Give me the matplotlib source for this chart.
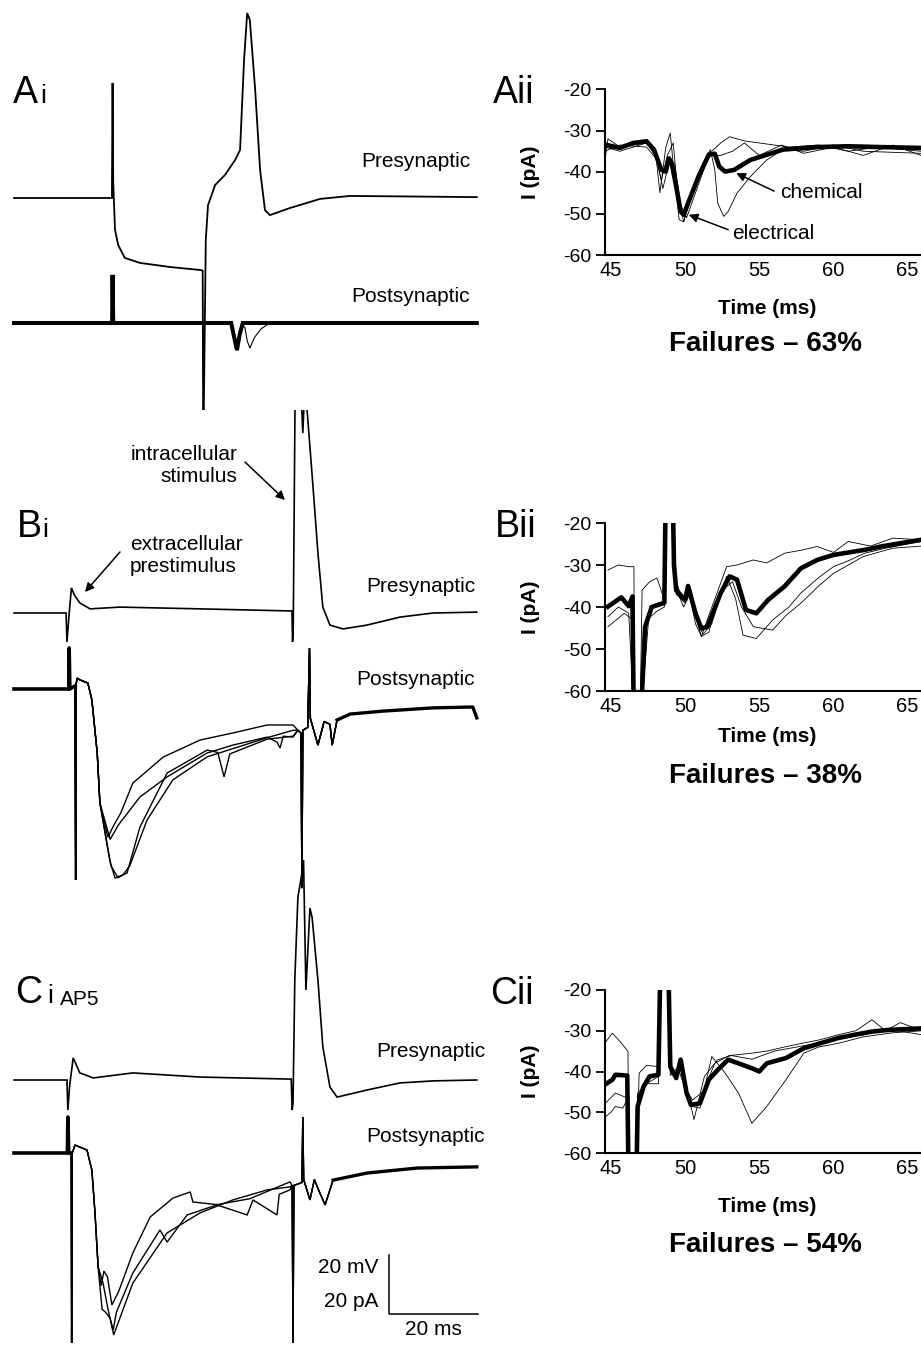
import numpy as np
import matplotlib
matplotlib.use("Agg")
from matplotlib import pyplot as plt

plt.rcParams['font.family'] = ['Liberation Sans', 'DejaVu Sans']
plt.rcParams['axes.unicode_minus'] = False

# ---------------- data: left column traces (time in ms, mV / pA relative to baseline)
# Ai presynaptic
ai_pre_t = [0, 22.0, 22.15, 22.3, 22.7, 23.4, 24.9, 28.3, 35.1, 41.8, 42.4, 42.5, 42.65, 43.1, 43.6,
            45.2, 47.4, 49.7, 50.8, 51.7, 52.4, 53.0, 54.2, 55.3, 56.4, 57.5, 62.0, 68.8, 75.5, 104]
ai_pre_v = [0, 0, 39, 5, -10.8, -15.9, -20.3, -22, -23.4, -24.4, -24.6, -72.5, -72, -14.2, -2.4,
            4.4, 7.8, 12.9, 16.3, 46.8, 62.7, 60.3, 36.6, 9.5, -4.1, -5.8, -3.4, -0.3, 0.7, 0.3]
# Ai postsynaptic (electrical only / electrical + chemical)
ai_post1_t = [0, 22.05, 22.15, 22.3, 48.8, 49.5, 50.1, 50.7, 51.4, 104]
ai_post1_v = [0, 0, 16.3, 0, 0, -5, -9.2, -4, 0, 0]
ai_post2_t = [0, 22.05, 22.15, 22.3, 48.8, 49.5, 50.1, 50.7, 51.4, 51.9, 52.4, 53.0, 54.0, 55.5, 57.0, 104]
ai_post2_v = [0, 0, 16.3, 0, 0, -5, -9.2, -4, -1, -1.5, -6, -8.5, -5, -2, -0.5, 0]

# Bi presynaptic
bi_pre_t = [0, 11.7, 11.9, 12.3, 12.9, 13.6, 14.8, 17.1, 23.8, 41.8, 62.0, 62.45, 62.6, 62.75, 63.2,
            64.5, 64.9, 65.3, 65.8, 67.2, 68.3, 69.4, 71.0, 73.9, 79.3, 86.7, 94.2, 104]
bi_pre_v = [0, 0, -9.8, -2, 8.5, 6, 3.4, 1.4, 2.0, 1.4, 0.7, 0.7, -9.8, -5, 80,
            75, 61, 75, 70, 42.7, 20.3, 2, -4.1, -5.4, -4.1, -1.4, 0, 0.3]
# Bi postsynaptic: common onset, four sweeps, common tail
bi_start_t = [0, 12.3, 12.4, 12.55, 13.7, 13.85, 14.0, 14.2, 14.8, 16.6, 17.5, 18.7, 19.3]
bi_start_v = [0, 0, 13.9, 0, 1, -64.7, 2, 3.7, 3.1, 2.0, -3.7, -21.7, -38.6]
bi_s1_t = [21.1, 22.5, 24.0, 26.7, 33.5, 41.8, 49.2, 56.9, 62.7]
bi_s1_v = [-50.2, -46, -42, -31.9, -23.1, -17.3, -14.9, -12.2, -12.2]
bi_s2_t = [21.6, 23.5, 28.3, 34.4, 43.4, 49.2, 56.9, 59.1, 59.8, 60.5, 62.7]
bi_s2_v = [-51, -46, -36.6, -29.8, -21.7, -19.0, -16.3, -18, -20, -16, -16.3]
bi_s3_t = [21.5, 22.7, 25.4, 28.3, 34.4, 43.4, 45.8, 47.2, 48.5, 56.9, 62.7]
bi_s3_v = [-58, -64.1, -62.4, -46.8, -28.5, -20.7, -21.5, -29.8, -22, -17, -16]
bi_s4_t = [21.8, 23.4, 24.5, 26.0, 29.9, 35.7, 43.4, 56.9, 62.7]
bi_s4_v = [-60, -64, -63, -60, -44.4, -30.8, -23, -16.5, -14]
bi_end_t = [63.8, 64.5, 64.7, 64.9, 66.0, 66.4, 66.6, 68.3, 69.7, 71.0, 71.5, 72.6, 75.5, 82.9, 94.2, 103.1, 104]
bi_end_v = [-14, -15, -67.5, -14, -13, 13.9, -10, -19, -11, -12, -19, -10.5, -8.5, -7.5, -6.4, -6.1, -9.8]

# Ci presynaptic (AP5)
ci_pre_t = [0, 11.9, 12.1, 12.5, 13.3, 14.8, 17.8, 26.7, 41.8, 62.3, 62.5, 62.7, 63.1, 63.8,
            64.7, 65.0, 65.6, 66.5, 67.0, 68.3, 69.4, 71.0, 72.6, 79.3, 86.7, 94.2, 104]
ci_pre_v = [0, 0, -10.2, -2, 7.5, 2.4, 0.7, 2.4, 1.0, 0.3, -10.2, -8, 33.9, 62,
            70, 80, 30.5, 58.3, 55, 33.9, 11.2, -2.4, -5.8, -3.4, -1.0, -0.3, 0]
ci_start_t = [0, 12.0, 12.1, 12.3, 12.85, 12.95, 13.1, 13.7, 16.4, 17.5, 18.2, 18.9]
ci_start_v = [0, 0, 12.2, 0, 0, -64.4, 0, 2.7, 1.0, -5.8, -20.3, -38.6]
ci_s1_t = [19.6, 20.2, 21.0, 22.0, 23.5, 26.7, 30.6, 35.7, 39.6, 40.2, 45.6, 53.0, 62.0]
ci_s1_v = [-45, -40, -42, -51.5, -47, -33.9, -21.7, -15.3, -13.2, -16.6, -17.5, -15.5, -9.8]
ci_s2_t = [19.8, 20.6, 21.6, 22.3, 23.0, 26.7, 32.8, 34.4, 38.9, 45.6, 52.4, 53.7, 59.1, 59.6, 62.0]
ci_s2_v = [-53, -54, -56, -60, -54, -40.7, -26.1, -30.2, -21, -17.6, -21, -15.9, -21, -14, -12.5]
ci_s3_t = [20.0, 21.0, 22.4, 23.3, 26.7, 34.4, 41.8, 49.2, 56.9, 62.0]
ci_s3_v = [-44, -52, -61.7, -58, -44.1, -27.1, -20.3, -15.9, -12.5, -11.5]
ci_end_t = [62.5, 62.7, 62.9, 64.7, 64.9, 65.1, 66.5, 67.5, 68.3, 69.9, 71.7, 79.3, 90.6, 104]
ci_end_v = [-11, -64.4, -11, -10, 12.2, -9, -15.9, -9, -12, -17.6, -9.2, -6.8, -5.1, -4.7]

scale_ms = 20
scale_mv = 20

# ---------------- data: right column (Time ms, I pA)
aii_mean_t = [44.6, 45.6, 46.5, 47.4, 47.9, 48.4, 48.7, 48.9, 49.1, 49.4, 49.7, 49.9, 50.2, 50.9, 51.6,
              52.0, 52.3, 52.7, 53.3, 54.4, 56.6, 58.8, 61.0, 63.2, 65.9]
aii_mean_v = [-33.4, -34.2, -33, -32.6, -34.6, -39.5, -39.9, -36.7, -37.9, -43.5, -49.5, -50.3, -47.5, -41.1, -35.8,
              -35.6, -38.7, -39.9, -39.5, -37.1, -34.6, -34, -33.8, -34, -34.2]
aii_sweeps = [
    ([44.6, 44.8, 45.6, 47.4, 48.0, 48.3, 48.7, 49.0, 49.3, 49.6, 49.9, 50.3, 51.0, 51.7, 52.0, 52.2, 52.6,
      52.9, 53.5, 54.4, 55.5, 56.6, 58, 60, 62, 65.9],
     [-37, -32, -34, -33, -35, -45, -34, -30.6, -42, -51.5, -52, -47, -40, -34.6, -39.5, -47.5, -50.7,
      -49.5, -45.1, -41.1, -37.1, -34.6, -35, -33.5, -35, -35.5]),
    ([44.6, 45.6, 47.4, 48.0, 48.4, 48.8, 49.2, 49.5, 49.9, 50.4, 51.2, 51.8, 52.4, 53.0, 54.0, 55.0, 57, 59, 61, 63, 65.9],
     [-34, -35, -33, -36, -42, -36, -33, -45, -52, -46, -38, -35, -33, -31.5, -32.5, -33, -34, -33.5, -35, -34, -35]),
    ([44.6, 45.6, 47.4, 48.1, 48.5, 48.9, 49.3, 49.7, 50.1, 50.8, 51.6, 52.4, 53.2, 54.0, 55.0, 56.5, 58, 60, 62, 64, 65.9],
     [-35, -33.5, -34, -37, -44, -38, -38, -48, -51, -44, -36, -36, -35, -33, -36, -33.5, -35.5, -34, -36, -33.5, -36]),
]

bii_mean_t = [44.8, 45.7, 46.2, 46.45, 46.55, 46.95, 47.1, 47.3, 47.75, 48.6, 48.7, 49.15, 49.25, 49.4, 50.0,
              50.2, 50.7, 51.1, 51.5, 52.4, 53.0, 53.5, 54.1, 54.8, 55.6, 56.7, 57.8, 58.9, 60.0, 62.1, 63.2, 65.9]
bii_mean_v = [-39.9, -37.7, -39.8, -37.5, -70, -70, -60, -44.7, -40, -39, -10, -10, -30, -36, -38.3,
              -35, -41.5, -45.1, -44.7, -36.7, -32.7, -33.5, -40.7, -41.5, -38.3, -35.1, -30.8, -28.8, -27.6, -26.4, -25.6, -24]
bii_sweeps = [
    ([44.8, 45.5, 46.2, 46.55, 46.6, 46.95, 47.1, 47.6, 48.1, 48.6, 48.7, 49.15, 49.3, 49.8, 50.3, 50.7, 51.1,
      51.6, 52.8, 53.5, 54.6, 55.5, 56.7, 57.8, 58.9, 60, 61, 62.5, 64, 65.9],
     [-31.2, -30, -30.4, -30.4, -70, -70, -36, -34, -33.1, -38.3, -10, -10, -33, -38, -36, -42.3, -47,
      -42, -30.4, -30, -28.8, -29.5, -27.2, -26.5, -25.6, -27, -24.4, -25.5, -23.6, -24]),
    ([44.8, 45.9, 46.5, 46.6, 46.95, 47.4, 48.1, 48.6, 48.7, 49.15, 49.3, 49.9, 50.3, 50.7, 51.1, 51.6, 52.2,
      52.8, 53.4, 53.9, 54.8, 55.9, 57.0, 57.8, 59, 60, 61, 62.1, 63.5, 65.9],
     [-44.7, -41.5, -43.1, -70, -70, -43.1, -41, -40, -10, -10, -35, -40, -37, -44, -47, -46, -38,
      -32.7, -38, -46.7, -47.5, -43.1, -40, -36.7, -33, -30.4, -29, -27.2, -26, -24.4]),
    ([44.8, 45.5, 46.2, 46.6, 46.95, 47.6, 48.2, 48.6, 48.7, 49.15, 49.4, 50.0, 50.4, 50.8, 51.2, 51.8, 52.5,
      53.2, 53.8, 54.6, 55.9, 56.8, 57.8, 59, 60, 62, 64, 65.9],
     [-42.3, -40, -41.5, -70, -70, -40, -39, -39.5, -10, -10, -37, -39, -36, -43, -46.5, -44, -36,
      -34, -40, -44.7, -45.5, -42, -39.1, -35, -32, -28, -26, -25.5]),
]

cii_mean_t = [44.4, 45.1, 45.3, 46.1, 46.2, 46.7, 46.8, 47.2, 47.6, 48.2, 48.35, 48.85, 49.0, 49.4, 49.7,
              50.1, 50.4, 51.0, 51.6, 52.2, 52.9, 53.6, 54.5, 55.0, 55.5, 56.8, 58.0, 59.1, 60.3, 61.4, 62.6, 63.7, 66]
cii_mean_v = [-43.7, -42, -40.8, -41, -70, -70, -48.6, -43.7, -41.2, -40.8, -10, -10, -38.8, -41.6, -37.1,
              -45.3, -48.2, -47.8, -42, -39.6, -37.1, -38, -39.2, -40, -38, -36.7, -34.3, -33.1, -31.8, -31, -30.2, -29.8, -29.4]
cii_sweeps = [
    ([44.4, 45.1, 45.7, 46.15, 46.2, 46.7, 46.9, 47.4, 48.2, 48.35, 48.85, 49.0, 49.4, 49.7, 50.1, 50.6, 51.3,
      52.2, 53.2, 54.5, 55.5, 56.8, 58, 59.1, 60.3, 61.5, 62.6, 63.5, 64.5, 66],
     [-33.9, -30.6, -33, -35.1, -70, -70, -40.4, -38.5, -38.8, -10, -10, -39, -42, -37, -44, -51.8, -41.2,
      -37.1, -36, -35.5, -35, -33.9, -33, -32.2, -31, -30, -27.3, -30, -28, -30]),
    ([44.4, 45.0, 45.3, 45.8, 46.2, 46.25, 46.7, 46.8, 47.4, 48.2, 48.35, 48.85, 49.0, 49.4, 49.7, 50.1, 50.5,
      51.0, 51.8, 52.7, 53.6, 54.5, 55.5, 56.8, 58, 59, 60.3, 62, 64, 66],
     [-51.8, -50, -48.6, -49, -46.1, -70, -70, -45.3, -43, -41.2, -10, -10, -40, -42, -38, -46, -48.6,
      -49, -36.3, -40.4, -45.3, -52.7, -48.6, -42, -35.5, -34, -33.1, -31.5, -30.5, -30]),
    ([44.4, 45.3, 46.1, 46.2, 46.7, 46.8, 47.4, 48.2, 48.35, 48.85, 49.0, 49.5, 50.0, 50.5, 51.2, 52.0, 53.0,
      54.5, 56.0, 57.5, 59.0, 60.5, 62, 63.5, 66],
     [-48.6, -45.3, -46.5, -70, -70, -46, -43, -43, -10, -10, -41, -39, -44, -47, -45, -38, -36,
      -37, -35, -34, -33, -31.5, -31, -29.5, -31]),
]

xticks = [45, 50, 55, 60, 65]
xtick_labels = ['45', '50', '55', '60', '65']
yticks = [-20, -30, -40, -50, -60]
ytick_labels = ['-20', '-30', '-40', '-50', '-60']
failures = ['Failures \u2013 63%', 'Failures \u2013 38%', 'Failures \u2013 54%']

# ---------------- layout (pixels of the 921 x 1345 image)
W, H = 921, 1345
MS_PX = 4.45   # px per ms in left column
MV_PX = 2.95   # px per mV / pA in left column
X0 = 14        # pixel of t = 0

fig = plt.figure(figsize=(W / 100, H / 100), dpi=100)


def add_ax(left, top, right, bottom):
    return fig.add_axes([left / W, 1 - bottom / H, (right - left) / W, (bottom - top) / H])


def ftext(x, y, s, **kw):
    fig.text(x / W, 1 - y / H, s, **kw)


def left_axes(top, bottom):
    ax = add_ax(0, top, 520, bottom)
    ax.set_xlim(-X0 / MS_PX, (520 - X0) / MS_PX)
    ax.set_ylim(0, (bottom - top) / MV_PX)
    ax.axis('off')
    return ax


def trace(ax, t, v, base, lw=1.0, clip=True):
    ax.plot(t, np.array(v) + base, color='black', lw=lw, clip_on=clip, solid_joinstyle='miter')


# ---- Ai
axA = left_axes(0, 410)
trace(axA, ai_pre_t, ai_pre_v, (410 - 198) / MV_PX, lw=1.3)
trace(axA, ai_post1_t, ai_post1_v, (410 - 323) / MV_PX, lw=2.9, clip=False)
trace(axA, ai_post2_t, ai_post2_v, (410 - 323) / MV_PX, lw=0.8, clip=False)

# ---- Bi
axB = left_axes(410, 860)
trace(axB, bi_pre_t, bi_pre_v, (860 - 613) / MV_PX, lw=1.2)
for st, sv in [(bi_s1_t, bi_s1_v), (bi_s2_t, bi_s2_v), (bi_s3_t, bi_s3_v), (bi_s4_t, bi_s4_v)]:
    trace(axB, bi_start_t + st + bi_end_t, bi_start_v + sv + bi_end_v, (860 - 689) / MV_PX, lw=1.0, clip=False)
axB.plot(bi_start_t[:5], np.array(bi_start_v[:5]) + (860 - 689) / MV_PX, color='black', lw=2.6)
axB.plot(bi_end_t[-6:], np.array(bi_end_v[-6:]) + (860 - 689) / MV_PX, color='black', lw=2.4, clip_on=False)

# ---- Ci
axC = left_axes(860, 1345)
trace(axC, ci_pre_t, ci_pre_v, (1345 - 1080) / MV_PX, lw=1.2)
for st, sv in [(ci_s1_t, ci_s1_v), (ci_s2_t, ci_s2_v), (ci_s3_t, ci_s3_v)]:
    trace(axC, ci_start_t + st + ci_end_t, ci_start_v + sv + ci_end_v, (1345 - 1153) / MV_PX, lw=1.0, clip=False)
axC.plot(ci_start_t[:5], np.array(ci_start_v[:5]) + (1345 - 1153) / MV_PX, color='black', lw=2.6)
axC.plot(ci_end_t[-4:], np.array(ci_end_v[-4:]) + (1345 - 1153) / MV_PX, color='black', lw=2.4, clip_on=False)

# scale bar
sb_x = (389 - X0) / MS_PX
sb_y = (1345 - 1314) / MV_PX
axC.plot([sb_x, sb_x, sb_x + scale_ms], [sb_y + scale_mv, sb_y, sb_y], color='black', lw=1.1, clip_on=False)

# left column texts
TXT = 15
for x, y in [(470, 167), (475, 592), (485, 1057)]:
    ftext(x, y, 'Presynaptic', ha='right', va='baseline', fontsize=TXT)
for x, y in [(470, 302), (475, 685), (485, 1142)]:
    ftext(x, y, 'Postsynaptic', ha='right', va='baseline', fontsize=TXT)

ftext(237, 460, 'intracellular', ha='right', va='baseline', fontsize=TXT)
ftext(237, 482, 'stimulus', ha='right', va='baseline', fontsize=TXT)
ftext(130, 550, 'extracellular', ha='left', va='baseline', fontsize=TXT)
ftext(130, 572, 'prestimulus', ha='left', va='baseline', fontsize=TXT)
arrow = dict(arrowstyle='-|>', color='black', lw=1.1, mutation_scale=13, shrinkA=0, shrinkB=0)
axB.annotate('', xy=((285 - X0) / MS_PX, (860 - 500) / MV_PX), xytext=((245 - X0) / MS_PX, (860 - 462) / MV_PX),
             arrowprops=arrow)
axB.annotate('', xy=((85 - X0) / MS_PX, (860 - 592) / MV_PX), xytext=((120 - X0) / MS_PX, (860 - 552) / MV_PX),
             arrowprops=arrow)

ftext(378, 1273, '20 mV', ha='right', va='baseline', fontsize=TXT)
ftext(378, 1307, '20 pA', ha='right', va='baseline', fontsize=TXT)
ftext(433, 1335, '20 ms', ha='center', va='baseline', fontsize=TXT)

# panel letters
BIG = 27
for (x, y, s, xs, sub) in [(13, 103, 'A', 40, 'i'), (17, 537, 'B', 42, 'i'), (15, 1003, 'C', 47, 'i')]:
    ftext(x, y, s, ha='left', va='baseline', fontsize=BIG)
    ftext(xs, y, sub, ha='left', va='baseline', fontsize=19)
ftext(60, 1005, 'AP5', ha='left', va='baseline', fontsize=TXT)
for (x, y, s) in [(493, 103, 'Aii'), (495, 537, 'Bii'), (490, 1004, 'Cii')]:
    ftext(x, y, s, ha='left', va='baseline', fontsize=BIG)

# ---------------- right column
right = [
    ((89, 255), aii_mean_t, aii_mean_v, aii_sweeps, 308, 344),
    ((523, 691), bii_mean_t, bii_mean_v, bii_sweeps, 737, 776),
    ((990, 1153), cii_mean_t, cii_mean_v, cii_sweeps, 1207, 1245),
]
rax = []
for i, ((top, bottom), mt, mv, sweeps, ty, fy_) in enumerate(right):
    ax = add_ax(605, top, W, bottom)
    for st, sv in sweeps:
        ax.plot(st, sv, color='black', lw=0.6)
    ax.plot(mt, mv, color='black', lw=3.3)
    ax.set_xlim(44.6, 65.9)
    ax.set_ylim(-60, -20)
    ax.set_xticks(xticks)
    ax.set_xticklabels(xtick_labels)
    ax.set_yticks(yticks)
    ax.set_yticklabels(ytick_labels)
    for s in ['top', 'right']:
        ax.spines[s].set_visible(False)
    for s in ['left', 'bottom']:
        ax.spines[s].set_linewidth(1.5)
    ax.tick_params(axis='y', direction='out', length=6.5, width=1.3, pad=3, labelsize=14)
    ax.tick_params(axis='x', length=0, pad=4.5, labelsize=14.5)
    ax.set_ylabel('I (pA)', fontsize=15, fontweight='bold')
    ax.yaxis.set_label_coords((540 - 605) / (W - 605), 0.5)
    ftext(767, ty, 'Time (ms)', ha='center', va='center', fontsize=15, fontweight='bold')
    ftext(765, fy_, failures[i], ha='center', va='center', fontsize=20, fontweight='bold')
    rax.append(ax)

axa = rax[0]
axa.annotate('', xy=(53.45, -40.3), xytext=(56.0, -44.6), arrowprops=arrow)
axa.text(56.4, -44.9, 'chemical', ha='left', va='center', fontsize=TXT)
axa.annotate('', xy=(50.25, -50.3), xytext=(52.9, -53.9), arrowprops=arrow)
axa.text(53.2, -54.8, 'electrical', ha='left', va='center', fontsize=TXT)

fig.savefig('out.png', dpi=100, facecolor='white')
